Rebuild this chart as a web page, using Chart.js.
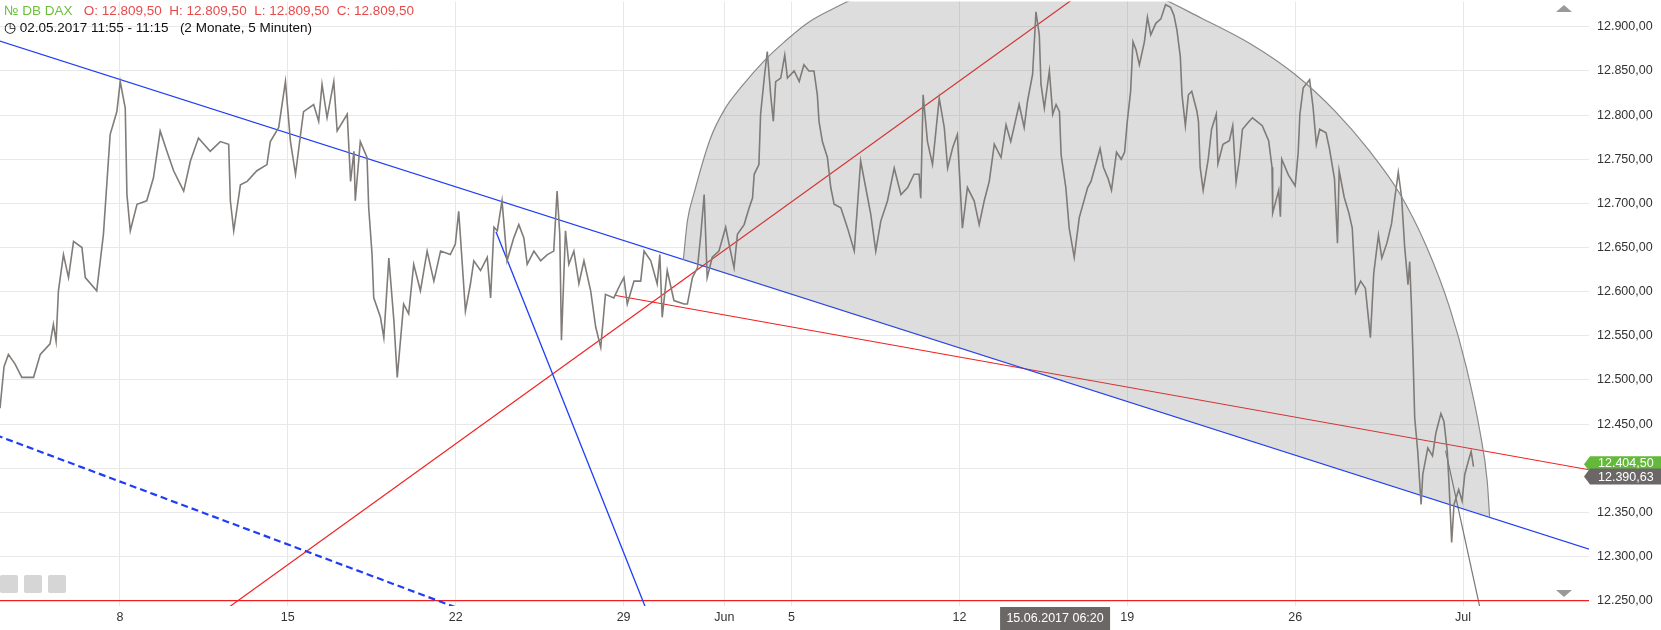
<!DOCTYPE html>
<html><head><meta charset="utf-8">
<script src="https://cdn.jsdelivr.net/npm/chart.js@4.4.1/dist/chart.umd.min.js"></script>
<style>
html,body{margin:0;padding:0;background:#fff;overflow:hidden;font-family:"Liberation Sans",Arial,sans-serif}
#wrap{position:relative;width:1661px;height:630px;overflow:hidden}
#c{position:absolute;left:0;top:-14px}
#hdr1{position:absolute;left:4px;top:3px;font-size:13.5px;white-space:pre}
#hdr2{position:absolute;left:4px;top:19px;font-size:13.5px;color:#111;white-space:pre}
.btn{position:absolute;top:575px;width:18px;height:18px;background:#d6d6d6;border-radius:2px}
</style></head>
<body><div id="wrap"><canvas id="c" width="1661" height="644"></canvas>
<div id="hdr1"><span style="color:#6cbf3a">&#8470; DB DAX</span>   <span style="color:#e84a4a">O: 12.809,50  H: 12.809,50  L: 12.809,50  C: 12.809,50</span></div>
<div id="hdr2">&#9719; 02.05.2017 11:55 - 11:15   (2 Monate, 5 Minuten)</div>
<div class="btn" style="left:0px"></div><div class="btn" style="left:24px"></div><div class="btn" style="left:48px"></div>
</div>
<script>
// trading-day index: 0 = 8 May 2017
const tickDays = [0,5,10,15,18,20,25,30,35,40];
const tickLabels = ["8","15","22","29","Jun","5","12","19","26","Jul"];
const yTicks = [12250,12300,12350,12400,12450,12500,12550,12600,12650,12700,12750,12800,12850,12900];

const priceDays = [-3.57,-3.45,-3.32,-3.12,-2.92,-2.57,-2.37,-2.08,-1.98,-1.90,-1.83,-1.68,-1.53,-1.38,-1.13,-1.03,-0.69,-0.49,-0.29,-0.09,0.01,0.16,0.21,0.31,0.51,0.80,1.00,1.20,1.40,1.60,1.90,2.10,2.34,2.69,2.99,3.24,3.29,3.39,3.59,3.79,4.08,4.38,4.48,4.73,4.93,5.08,5.23,5.38,5.47,5.77,5.92,6.02,6.17,6.37,6.47,6.77,6.87,6.97,7.01,7.16,7.36,7.41,7.51,7.56,7.76,7.86,8.01,8.16,8.26,8.45,8.60,8.75,8.95,
9.15,9.35,9.55,9.84,9.99,10.09,10.19,10.29,10.44,10.54,10.74,10.94,11.04,11.14,11.24,11.38,11.53,11.73,11.88,12.03,12.13,12.33,12.53,12.73,12.92,13.02,13.10,13.15,13.27,13.37,13.52,13.67,13.82,14.02,14.17,14.32,14.46,14.71,14.91,15.01,15.11,15.31,15.51,15.61,15.81,16.00,16.08,16.15,16.30,16.50,16.80,16.90,17.05,17.20,17.30,17.40,17.49,17.64,17.84,18.04,18.14,18.29,18.39,18.59,18.74,18.84,18.89,19.03,
19.08,19.20,19.28,19.38,19.46,19.53,19.68,19.80,19.88,20.08,20.23,20.37,20.52,20.67,20.77,20.82,20.92,21.07,21.17,21.27,21.47,21.67,21.87,22.06,22.21,22.36,22.51,22.66,22.86,23.06,23.26,23.46,23.65,23.80,23.85,23.92,24.05,24.20,24.40,24.55,24.65,24.80,24.94,25.09,25.24,25.44,25.59,25.74,25.89,26.04,26.24,26.39,26.53,26.78,26.93,27.03,27.18,27.28,27.38,27.43,27.53,27.68,27.78,27.88,27.98,28.03,28.17,28.27,28.42,28.57,28.82,28.92,
29.19,29.29,29.43,29.53,29.68,29.82,29.92,30.00,30.10,30.17,30.26,30.36,30.51,30.60,30.70,30.85,31.00,31.14,31.29,31.39,31.48,31.58,31.63,31.73,31.82,31.92,32.07,32.12,32.17,32.26,32.41,32.51,32.65,32.70,32.85,33.04,33.14,33.24,33.34,33.43,33.63,33.73,34.02,34.21,34.31,34.33,34.51,34.56,34.60,34.80,35.00,35.09,35.14,35.24,35.43,35.53,35.63,35.73,35.92,36.02,36.17,36.26,36.31,36.46,36.60,36.70,36.80,36.95,37.09,37.24,37.34,37.48,37.58,37.73,37.87,37.97,38.07,38.17,38.26,38.36,38.41,38.46,38.51,38.56,38.65,38.75,38.80,38.95,39.09,39.19,39.34,39.43,39.53,39.58,39.66,39.73,39.87,39.97,40.05,40.17,40.24,40.31];
const priceValues = [12468,12515,12529,12518,12503,12503,12529,12541,12563,12544,12601,12642,12616,12657,12650,12616,12601,12665,12778,12804,12838,12808,12710,12669,12699,12703,12729,12782,12759,12737,12714,12748,12774,12759,12770,12767,12703,12669,12721,12725,12737,12744,12770,12786,12838,12770,12733,12778,12804,12812,12793,12835,12797,12838,12782,12801,12725,12759,12703,12770,12752,12695,12642,12593,12571,12548,12638,12567,12503,12586,12575,12631,12601,
12646,12612,12646,12642,12654,12691,12635,12578,12609,12635,12624,12639,12593,12673,12669,12703,12635,12661,12676,12661,12631,12646,12635,12642,12646,12714,12665,12545,12669,12631,12646,12609,12635,12601,12560,12537,12597,12593,12609,12616,12586,12612,12612,12646,12635,12609,12642,12571,12624,12590,12586,12586,12616,12627,12665,12710,12616,12639,12646,12673,12654,12627,12665,12676,12695,12706,12733,12744,
12801,12846,12872,12823,12793,12838,12842,12868,12842,12850,12838,12857,12850,12850,12823,12793,12770,12752,12718,12699,12695,12672,12646,12748,12718,12688,12646,12680,12703,12740,12710,12718,12733,12733,12706,12823,12770,12744,12819,12786,12740,12763,12778,12672,12718,12703,12676,12703,12725,12767,12752,12789,12770,12812,12786,12816,12846,12917,12891,12835,12808,12850,12801,12812,12804,12755,12718,12672,12639,12684,12718,12725,
12762,12741,12728,12715,12758,12750,12758,12793,12827,12883,12874,12857,12883,12911,12891,12904,12909,12925,12922,12913,12896,12866,12823,12788,12823,12827,12805,12793,12741,12715,12750,12784,12801,12745,12767,12771,12788,12724,12750,12784,12793,12797,12788,12771,12741,12689,12715,12685,12750,12732,12720,12758,12801,12831,12840,12810,12767,12784,12780,12762,12728,12655,12737,12707,12689,12672,12599,12612,12604,12548,12621,12664,12638,12655,12677,12707,12735,12707,12651,12608,12634,12586,12526,12457,12419,12359,12393,12423,12414,12440,12462,12453,12419,12384,12316,12359,12376,12363,12393,12410,12419,12402];

// drawn trend lines (endpoints in day / price units)
const blueLineDays = [-4, 46], blueLineVals = [12889, 12281];
const blueSteepDays = [11.2, 16.2], blueSteepVals = [12668, 12190];
const blueDashDays = [-4, 12], blueDashVals = [12442, 12214];
const redRiseDays = [2.2, 29.5], redRiseVals = [12214, 12962];
const redSlopeDays = [14.73, 46], redSlopeVals = [12596, 12383];
const redFlatDays = [-4, 46], redFlatVals = [12250, 12250];
const greyLineDays = [39.48, 40.8], greyLineVals = [12420, 12190];
const arcDays = [16.78,16.9,17.11,17.58,18.0,18.53,19.2,19.79,20.5,21.37,23.0,25.0,27.0,29.0,30.6,32.2,33.7,35.0,36.2,37.2,38.1,38.9,39.6,40.1,40.5,40.72,40.79];
const arcVals = [12636,12680,12713,12773,12806,12833,12862,12883,12905,12923,12952,12972,12975,12962,12940,12910,12880,12846,12804,12760,12712,12652,12582,12514,12442,12385,12345];
const lastPrice = 12404.5, avgPrice = 12390.63;
const crossDay = 27.85, crossLabel = "15.06.2017 06:20";

const pts = (xs, ys) => xs.map((x, i) => ({x, y: ys[i]}));
const seg = (xs, ys, color, w, dash) => ({data: pts(xs, ys), borderColor: color, borderWidth: w, borderDash: dash || [], pointRadius: 0, tension: 0, fill: false});
const fmt = v => v.toLocaleString('de-DE', {minimumFractionDigits: 2, maximumFractionDigits: 2});

const overlay = {
  id: 'overlay',
  afterDraw(chart) {
    const {ctx, scales: {x, y}, chartArea} = chart;
    const H = chart.height;
    ctx.save();
    const box = (val, bg, tY) => {
      const py = y.getPixelForValue(val);
      const l = chartArea.right + 1, r = chart.width;
      ctx.fillStyle = bg;
      ctx.beginPath();
      ctx.moveTo(l - 6, py); ctx.lineTo(l, py - 8); ctx.lineTo(r, py - 8); ctx.lineTo(r, py + 8); ctx.lineTo(l, py + 8); ctx.closePath();
      ctx.fill();
      ctx.fillStyle = '#fff'; ctx.font = '12.5px "Liberation Sans", Arial'; ctx.textBaseline = 'middle'; ctx.textAlign = 'left';
      ctx.fillText(fmt(val), l + 8, py + (tY || 0));
    };
    box(lastPrice, '#63b93a', -1);
    box(avgPrice, '#6b6767', 1);
    const cx = x.getPixelForValue(crossDay);
    ctx.fillStyle = '#6b6767';
    ctx.fillRect(cx - 55, chartArea.bottom + 1, 110, H - chartArea.bottom);
    ctx.fillStyle = '#fff'; ctx.textAlign = 'center'; ctx.textBaseline = 'middle';
    ctx.fillText(crossLabel, cx, chartArea.bottom + 13);
    ctx.fillStyle = '#999';
    ctx.beginPath(); ctx.moveTo(1564, 19); ctx.lineTo(1572, 26); ctx.lineTo(1556, 26); ctx.fill();
    ctx.beginPath(); ctx.moveTo(1556, 604); ctx.lineTo(1572, 604); ctx.lineTo(1564, 611); ctx.fill();
    ctx.restore();
  }
};

new Chart(document.getElementById('c'), {
  type: 'line',
  data: { datasets: [
    {data: pts(arcDays, arcVals), borderColor: '#8a8a8a', borderWidth: 1.2, backgroundColor: 'rgba(120,120,120,0.25)', fill: 'shape', cubicInterpolationMode: 'monotone', pointRadius: 0},
    {data: pts(priceDays, priceValues), borderColor: '#807c79', borderWidth: 1.6, pointRadius: 0, tension: 0, fill: false},
    seg(blueLineDays, blueLineVals, '#1f3df5', 1.3),
    seg(blueSteepDays, blueSteepVals, '#1f3df5', 1.3),
    seg(blueDashDays, blueDashVals, '#1f3df5', 2.2, [7, 4]),
    seg(redRiseDays, redRiseVals, '#f02020', 1.2),
    seg(redSlopeDays, redSlopeVals, '#f02020', 1.2),
    seg(redFlatDays, redFlatVals, '#f02020', 1.3),
    seg(greyLineDays, greyLineVals, '#777', 1.2)
  ]},
  options: {
    responsive: false, animation: false,
    layout: {padding: 0},
    plugins: {legend: {display: false}, tooltip: {enabled: false}},
    scales: {
      x: {type: 'linear', min: -3.57, max: 43.75,
        afterBuildTicks: s => { s.ticks = tickDays.map(v => ({value: v})); },
        afterFit: s => { s.height = 24; },
        ticks: {callback: (v) => { const i = tickDays.indexOf(v); return i >= 0 ? tickLabels[i] : ''; }, color: '#333', font: {size: 12.5, family: '"Liberation Sans", Arial'}, maxRotation: 0, autoSkip: false, padding: 4},
        grid: {color: '#e8e8e8', drawTicks: false}, border: {display: false}},
      y: {position: 'right', min: 12244, max: 12928.7,
        afterBuildTicks: s => { s.ticks = yTicks.map(v => ({value: v})); },
        afterFit: s => { s.width = 72; },
        ticks: {callback: v => fmt(v), color: '#333', font: {size: 12.5, family: '"Liberation Sans", Arial'}, padding: 8},
        grid: {color: '#e8e8e8', drawTicks: false}, border: {display: false}}
    }
  },
  plugins: [overlay]
});
</script></body></html>
